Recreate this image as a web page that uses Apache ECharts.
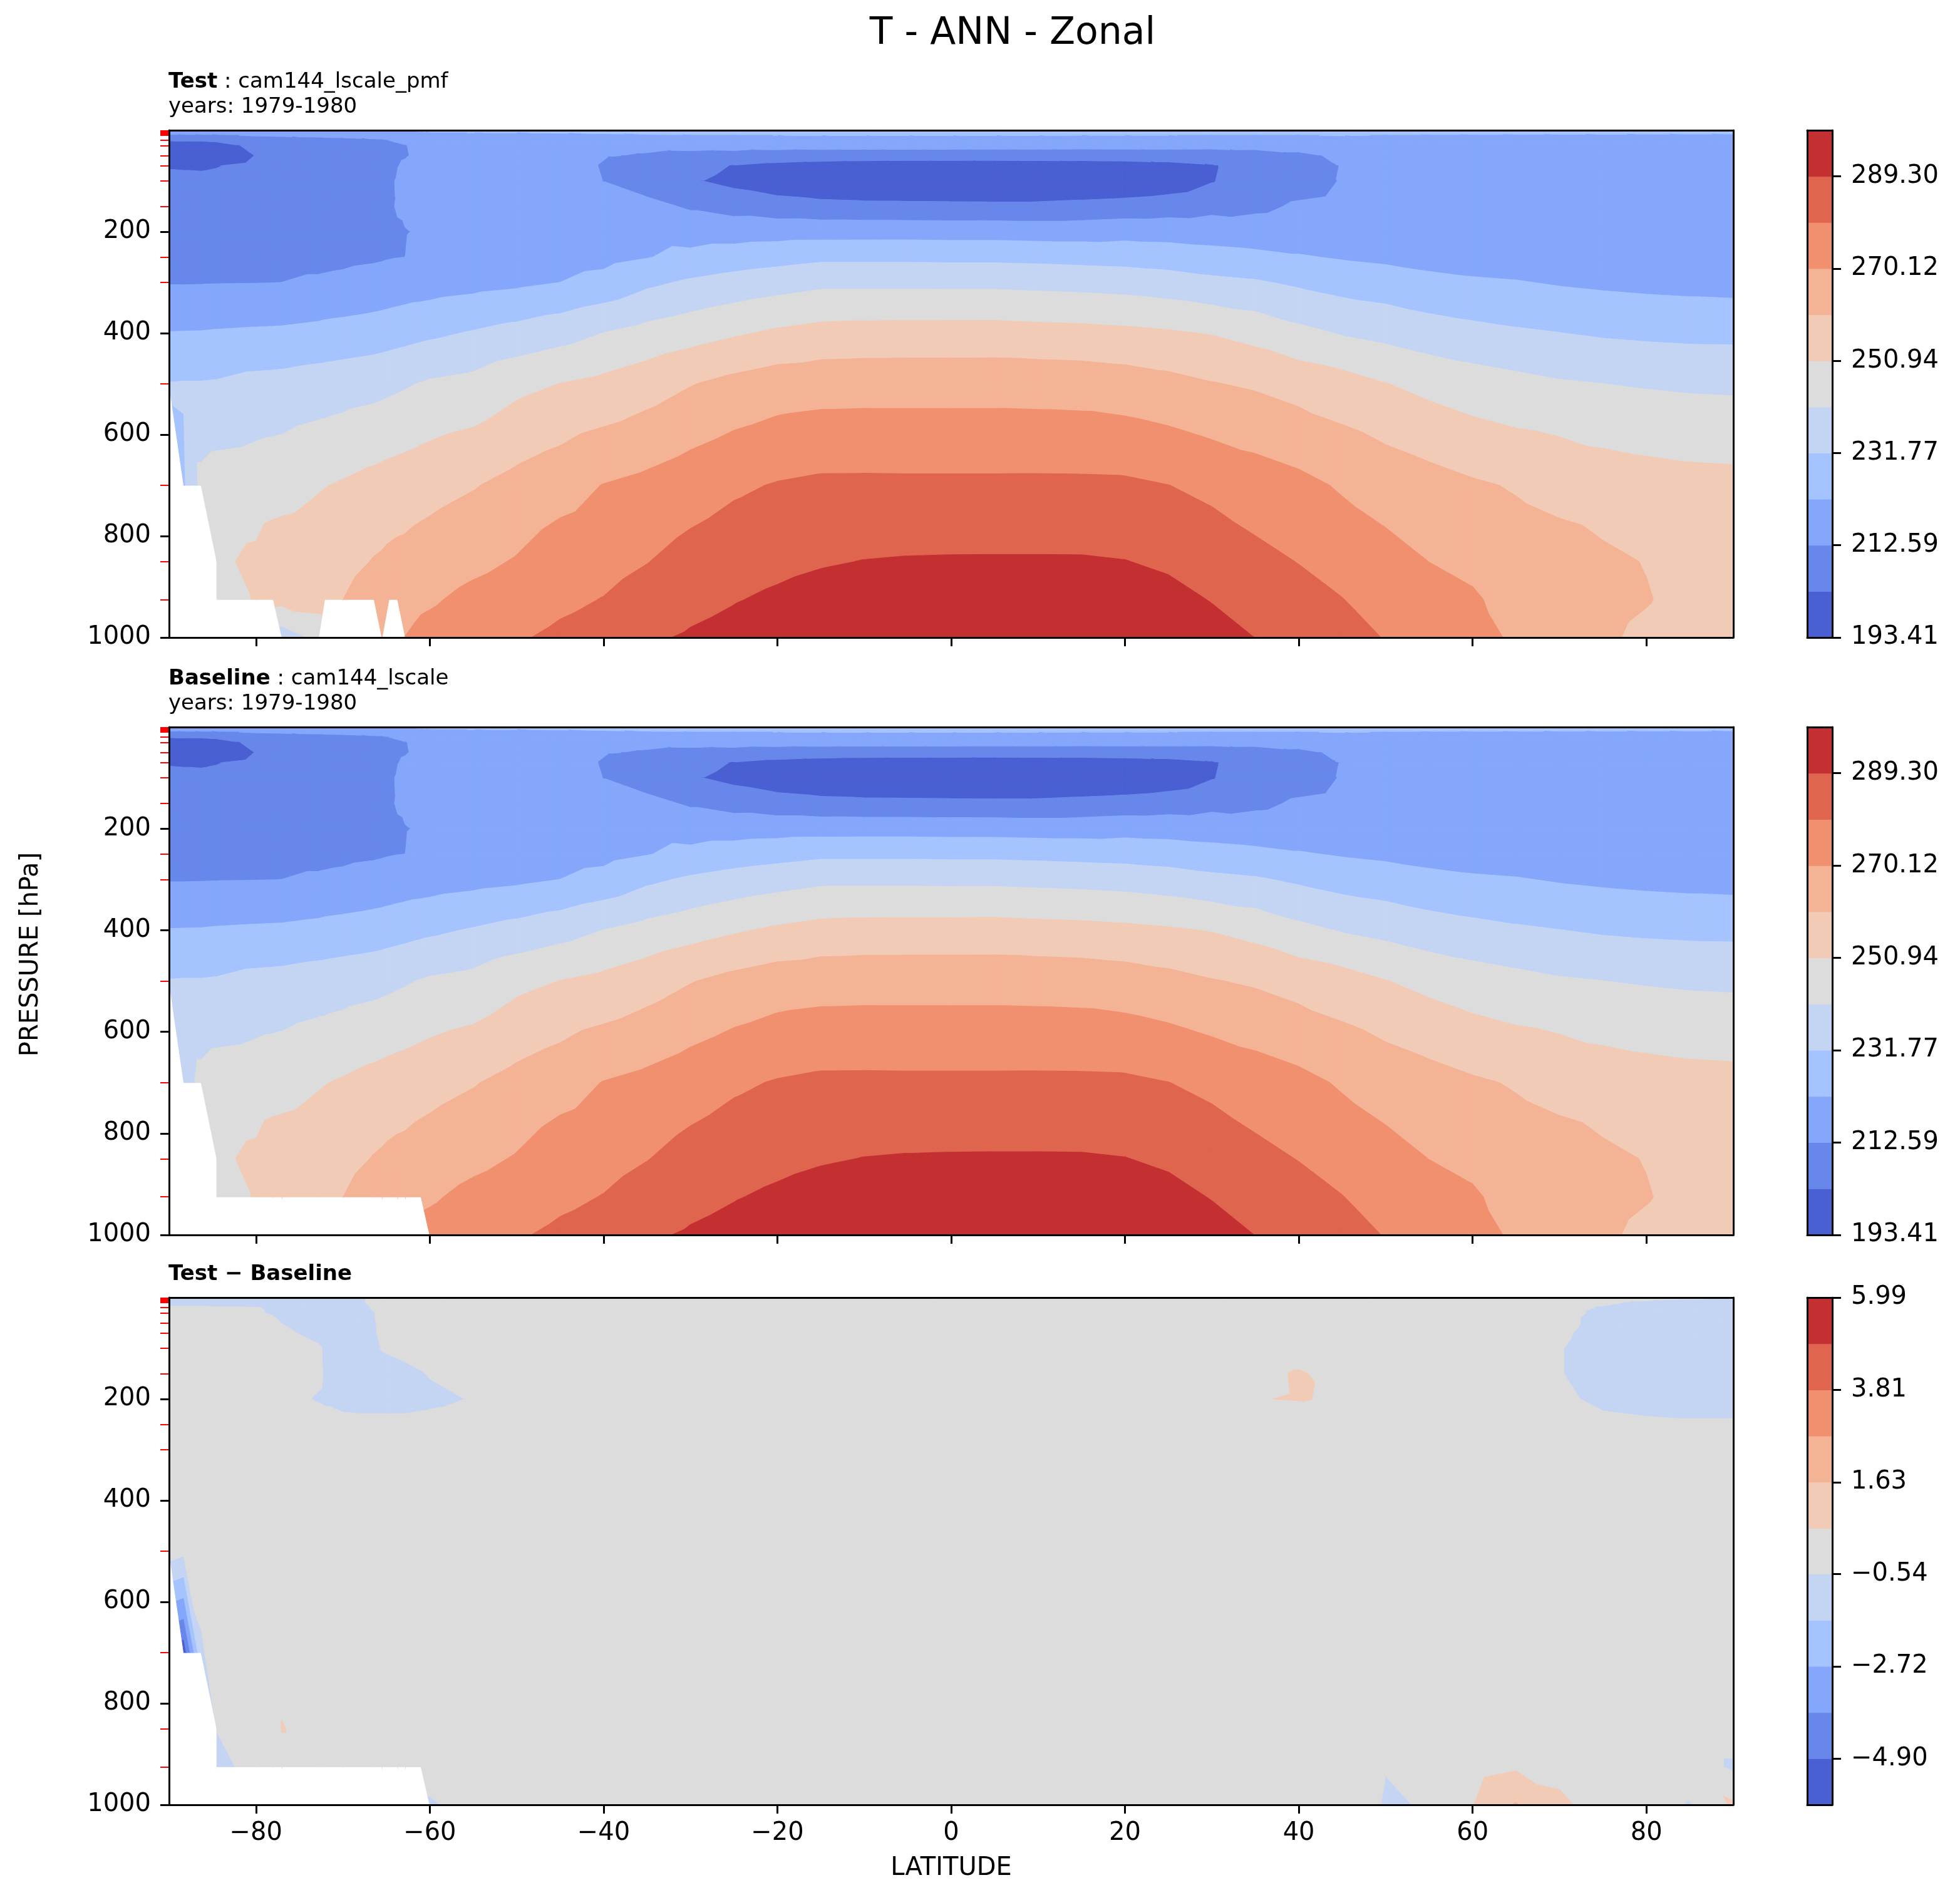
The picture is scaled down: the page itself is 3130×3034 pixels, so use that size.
<!DOCTYPE html>
<html>
<head>
<meta charset="utf-8">
<title>T - ANN - Zonal</title>
<script src="https://cdn.jsdelivr.net/npm/echarts@6.0.0/dist/echarts.min.js"></script>
<style>
html, body { margin: 0; padding: 0; background: #ffffff; }
#chart { width: 3130px; height: 3034px; }
</style>
</head>
<body>
<div id="chart"></div>
<script>
var _ = null;

// grid of the zonal mean field
var lats = [-90, -88.3, -86.3, -84.5, -80, -78, -77, -72.8, -72.1, -70,
  -66.4, -65.5, -64.7, -63.7, -62.8, -61, -60, -55, -50, -45,
  -40, -35, -30, -25, -20, -15, -10, -5, 0, 5,
  10, 15, 20, 25, 30, 35, 40, 45, 50, 55,
  60, 65, 70, 75, 80, 85, 90];
var plevs = [1, 5, 10, 20, 30, 50, 70, 100, 150, 200, 250, 300, 400, 500, 700, 850, 925, 1000];

// Test: cam144_lscale_pmf, temperature [K], one row per pressure level
var testT = [
  [218, 218, 218, 218, 219, 219, 219, 219.5, 219.5, 219.5, 220, 220, 220.5, 221, 222.5, 223.2, 224, 224.5, 224.5, 225, 226, 227, 228, 228.5, 229, 229.5, 230, 230, 230, 230, 230, 230, 230, 230, 230, 230, 230, 229, 228.5, 228, 227.5, 227, 226.5, 226, 225.5, 225, 225],
  [214.5, 214.5, 214.5, 214.5, 215.5, 216, 216, 216.5, 216.5, 216.8, 217.2, 217.3, 217.6, 218, 219, 220.5, 221.5, 222.3, 222.2, 222.7, 223.3, 224.5, 225.5, 226, 226.3, 226.5, 226.8, 226.8, 226.8, 226.8, 226.6, 226.5, 226.5, 226.5, 226.4, 226.4, 226.3, 225, 224.5, 224, 223.8, 223.6, 223.4, 223.3, 223.2, 223.1, 223],
  [211.5, 211.6, 211.7, 211.8, 213.2, 213.5, 213.6, 214, 214.2, 214.3, 215, 215.1, 215.5, 215.8, 216.5, 217.3, 218, 218.8, 219, 219.5, 220, 221, 221.7, 222, 222.2, 222.3, 222.4, 222.4, 222.4, 222.4, 222.3, 222.2, 222.2, 222.2, 222.1, 222, 221.9, 222.5, 222, 221.7, 221.5, 221.5, 221.4, 221.4, 221.3, 221.3, 221.3],
  [203.5, 203.6, 203.7, 204.3, 208, 208.5, 208.8, 210, 210.2, 210.6, 211.5, 211.7, 212.6, 213, 213.6, 214.5, 214.8, 215.8, 216.5, 217, 216.5, 216.5, 217, 217.2, 217.3, 217.5, 217.6, 217.6, 217.6, 217.6, 217.5, 217.4, 217.4, 217.4, 217.3, 217.2, 217, 218, 218, 217.8, 217.5, 217.3, 217, 217, 216.8, 216.7, 216.6],
  [199, 199.2, 199.3, 200, 205, 205.8, 206, 207, 207.2, 207.8, 208.8, 210, 211.6, 212.1, 212.5, 213.4, 213.7, 215, 216, 216.3, 214.5, 214, 214.3, 214.6, 214.8, 215, 215, 215, 215, 215, 215, 214.9, 214.9, 214.9, 214.8, 214.7, 214.5, 215.5, 216, 216, 216, 215.8, 215.6, 215.5, 215.4, 215.3, 215.2],
  [197.5, 197.7, 197.8, 198.5, 203.2, 204.5, 204.8, 205.5, 205.7, 206, 207.5, 209.5, 211, 212.2, 212.4, 213.2, 213.6, 215, 216, 216, 213, 212, 211, 210.5, 209.5, 208.8, 208.6, 208.5, 208.5, 208.4, 208.4, 208.3, 208.4, 208.5, 208.5, 209.5, 211.5, 213.5, 215, 215.2, 215.2, 215, 214.8, 214.7, 214.6, 214.5, 214.4],
  [202.7, 202.6, 202.5, 202.8, 204.6, 205, 205.2, 205.5, 205.6, 206, 207.5, 209.8, 211.3, 212.5, 213, 214, 214.4, 215.6, 216.5, 215.8, 212.1, 209, 206.5, 202.5, 200, 198.5, 197.5, 197, 197, 196.8, 197.2, 197.5, 198.2, 199.5, 202, 208.5, 210, 212.8, 214.5, 215, 215, 214.8, 214.6, 214.5, 214.4, 214.3, 214.2],
  [203.9, 203.9, 203.9, 204.1, 205.4, 205.8, 206, 206.3, 206.4, 206.8, 208.3, 210.5, 212, 212.9, 213.8, 214.6, 215, 216, 216.8, 216.2, 212.5, 208.5, 204, 200.5, 197.5, 195.5, 194.5, 194, 193.6, 193.41, 194, 194.5, 195.5, 197.5, 202.5, 208.5, 209.5, 213, 214.5, 215, 215, 214.8, 214.6, 214.5, 214.4, 214.3, 214.2],
  [206, 206, 206, 206.1, 207.3, 207.6, 207.7, 208.2, 208.3, 208.6, 209.6, 211, 212.2, 212.8, 213.6, 214.5, 215, 216, 216.8, 216.6, 214.8, 215, 211.5, 209, 207, 205.8, 205.3, 205.2, 205.1, 205, 205, 205.8, 206.6, 207.8, 209.8, 211, 213.5, 214.5, 215.2, 215.3, 215.2, 215, 214.8, 214.6, 214.5, 214.4, 214.3],
  [208, 208, 208, 208.1, 209.1, 209.3, 209.4, 210, 210.1, 210.2, 210.8, 211.3, 212, 212.3, 212.4, 213, 213.8, 215.3, 216.5, 217, 217.5, 219, 218, 218, 218.3, 218.4, 218.5, 218.5, 218.3, 218.3, 217.9, 217.9, 218.8, 218.5, 217.7, 216.3, 216.8, 217, 216.5, 215.8, 215.6, 215.5, 215.2, 215, 214.9, 214.8, 214.7],
  [210.1, 210.1, 210.1, 210.2, 210.4, 210.5, 210.6, 210.6, 210.7, 211, 211.6, 211.9, 212.2, 212.45, 212.6, 214, 214.6, 216.8, 217.5, 218.5, 219.5, 221.8, 224.5, 226.6, 228.2, 229.8, 229.8, 229.8, 229.6, 229.6, 229.2, 228.6, 228.1, 227.1, 225.7, 224.7, 222.9, 221.4, 220.3, 218.9, 218, 217.5, 216.8, 216.3, 216, 215.8, 215.6],
  [212.1, 212.1, 212.2, 212.3, 212.4, 212.5, 212.6, 213.5, 213.7, 214.2, 215.5, 215.9, 216.3, 216.8, 217.2, 217.6, 217.9, 219.2, 220.4, 222.2, 225, 229.9, 233.1, 235.5, 237.5, 239.3, 239.3, 239.3, 239.2, 239.2, 238.7, 238.2, 237.5, 236.1, 234, 232.7, 230.3, 228, 226.6, 224.7, 223.4, 222.7, 221.4, 220.5, 219.8, 219.3, 218.9],
  [222.5, 222.6, 222.7, 223, 223.5, 223.7, 223.8, 224.8, 225.2, 225.8, 226.9, 227.3, 227.7, 228.2, 228.6, 229.6, 230.1, 232.5, 235, 237.8, 241.5, 244.6, 247.2, 249.9, 252.4, 254.2, 254.7, 254.8, 254.8, 254.9, 254.3, 253.9, 253.1, 252, 250.5, 247.8, 243.8, 240.7, 238.7, 236.2, 234.5, 233, 231.9, 230.7, 230, 229.5, 229.4],
  [232.1, 232.3, 232.3, 232.6, 234.5, 234.8, 235, 236.4, 236.5, 237.2, 238.3, 238.8, 239.3, 239.9, 240.5, 241.8, 242.5, 244.2, 248.5, 251.1, 253.3, 256.4, 260.1, 263.2, 265.5, 266.3, 266.5, 266.5, 266.5, 266.5, 266.3, 266, 265, 263.3, 261, 259.4, 257, 254.8, 251.2, 248.3, 245.9, 244.1, 242.3, 241.4, 240.6, 240, 239.7],
  [_, 230.5, 244, 245.9, 246.6, 247.45, 247.8, 250.24, 250.66, 251.8, 254, 254.6, 255.1, 255.6, 256, 257, 257.5, 259.95, 263.5, 266.6, 270.4, 272.6, 275.5, 278.3, 280.3, 281.45, 281.5, 281.4, 281.4, 281.4, 281.45, 281.4, 281.2, 279.8, 277.6, 275, 272.6, 269.1, 266.75, 264.2, 261.7, 259.8, 258.8, 256.4, 255.1, 254.2, 253.85],
  [_, _, _, 249.5, 252.5, 255.3, 255.5, 256.5, 257, 257.6, 261, 261.6, 262.3, 262.9, 263.2, 264.5, 265, 267.9, 270.75, 274.85, 276.7, 279.45, 282.9, 285.3, 287, 288.5, 289.5, 289.9, 290.05, 290.1, 290.1, 290.05, 289.5, 287.9, 285.1, 282.1, 279.45, 276.2, 272.8, 270.05, 268, 265, 262.8, 262.1, 260.2, 257.5, 256.5],
  [_, _, _, 249, 251.2, 254.5, 254, 255, 255.5, 260.5, 265, 264, 265.5, 266.3, 266.5, 268.5, 269, 272.5, 274.8, 277.8, 280, 283.3, 286.6, 288.8, 290.8, 292.7, 293.8, 294.2, 294.6, 294.8, 294.5, 294.3, 293.5, 291.9, 288.9, 285.7, 282.8, 279.9, 275.9, 273.2, 271.2, 266.8, 264.6, 263, 261, 258, 257],
  [_, _, _, _, _, _, 236, 244, _, _, _, 266, _, _, 270.3, 272.5, 273.1, 276, 278.8, 281.5, 283.4, 288, 290.3, 292.3, 294.8, 296.3, 297.8, 298.3, 298.6, 298.89, 298.5, 298.2, 297.3, 295.6, 292.7, 289.2, 286.3, 283, 279.3, 276.3, 274.5, 268.2, 264.5, 261.8, 258.8, 256.5, 255.5]
];

// Baseline: cam144_lscale
var baseT = [
  [218, 218, 218, 218, 219, 219, 219, 219.5, 219.5, 219.5, 220, 220, 220.5, 221, 222.5, 223.2, 224, 224.5, 224.5, 225, 226, 227, 228, 228.5, 229, 229.5, 230, 230, 230, 230, 230, 230, 230, 230, 230, 230, 230, 229, 228.5, 228, 227.5, 227, 226.5, 226, 225.5, 225, 225],
  [214.5, 214.5, 214.5, 214.5, 215.5, 216, 216, 216.5, 216.5, 216.8, 217.2, 217.3, 217.6, 218, 219, 220.5, 221.5, 222.3, 222.2, 222.7, 223.3, 224.5, 225.5, 226, 226.3, 226.5, 226.8, 226.8, 226.8, 226.8, 226.6, 226.5, 226.5, 226.5, 226.4, 226.4, 226.3, 225, 224.5, 224, 223.8, 223.6, 223.4, 223.3, 223.2, 223.1, 223],
  [211.5, 211.6, 211.7, 211.8, 213.2, 213.5, 213.6, 214, 214.2, 214.3, 215, 215.1, 215.5, 215.8, 216.5, 217.3, 218, 218.8, 219, 219.5, 220, 221, 221.7, 222, 222.2, 222.3, 222.4, 222.4, 222.4, 222.4, 222.3, 222.2, 222.2, 222.2, 222.1, 222, 221.9, 222.5, 222, 221.7, 221.5, 221.5, 221.4, 221.4, 221.3, 221.3, 221.3],
  [203.5, 203.6, 203.7, 204.3, 208, 208.5, 208.8, 210, 210.2, 210.6, 211.5, 211.7, 212.6, 213, 213.6, 214.5, 214.8, 215.8, 216.5, 217, 216.5, 216.5, 217, 217.2, 217.3, 217.5, 217.6, 217.6, 217.6, 217.6, 217.5, 217.4, 217.4, 217.4, 217.3, 217.2, 217, 218, 218, 217.8, 217.5, 217.3, 217, 217, 216.8, 216.7, 216.6],
  [199, 199.2, 199.3, 200, 205, 205.8, 206, 207, 207.2, 207.8, 208.8, 210, 211.6, 212.1, 212.5, 213.4, 213.7, 215, 216, 216.3, 214.5, 214, 214.3, 214.6, 214.8, 215, 215, 215, 215, 215, 215, 214.9, 214.9, 214.9, 214.8, 214.7, 214.5, 215.5, 216, 216, 216, 215.8, 215.6, 215.5, 215.4, 215.3, 215.2],
  [197.5, 197.7, 197.8, 198.5, 203.2, 204.5, 204.8, 205.5, 205.7, 206, 207.5, 209.5, 211, 212.2, 212.4, 213.2, 213.6, 215, 216, 216, 213, 212, 211, 210.5, 209.5, 208.8, 208.6, 208.5, 208.5, 208.4, 208.4, 208.3, 208.4, 208.5, 208.5, 209.5, 211.5, 213.5, 215, 215.2, 215.2, 215, 214.8, 214.7, 214.6, 214.5, 214.4],
  [202.7, 202.6, 202.5, 202.8, 204.6, 205, 205.2, 205.5, 205.6, 206, 207.5, 209.8, 211.3, 212.5, 213, 214, 214.4, 215.6, 216.5, 215.8, 212.1, 209, 206.5, 202.5, 200, 198.5, 197.5, 197, 197, 196.8, 197.2, 197.5, 198.2, 199.5, 202, 208.5, 210, 212.8, 214.5, 215, 215, 214.8, 214.6, 214.5, 214.4, 214.3, 214.2],
  [203.9, 203.9, 203.9, 204.1, 205.4, 205.8, 206, 206.3, 206.4, 206.8, 208.3, 210.5, 212, 212.9, 213.8, 214.6, 215, 216, 216.8, 216.2, 212.5, 208.5, 204, 200.5, 197.5, 195.5, 194.5, 194, 193.6, 193.41, 194, 194.5, 195.5, 197.5, 202.5, 208.5, 209.5, 213, 214.5, 215, 215, 214.8, 214.6, 214.5, 214.4, 214.3, 214.2],
  [206, 206, 206, 206.1, 207.3, 207.6, 207.7, 208.2, 208.3, 208.6, 209.6, 211, 212.2, 212.8, 213.6, 214.5, 215, 216, 216.8, 216.6, 214.8, 215, 211.5, 209, 207, 205.8, 205.3, 205.2, 205.1, 205, 205, 205.8, 206.6, 207.8, 209.8, 211, 213.5, 214.5, 215.2, 215.3, 215.2, 215, 214.8, 214.6, 214.5, 214.4, 214.3],
  [208, 208, 208, 208.1, 209.1, 209.3, 209.4, 210, 210.1, 210.2, 210.8, 211.3, 212, 212.3, 212.4, 213, 213.8, 215.3, 216.5, 217, 217.5, 219, 218, 218, 218.3, 218.4, 218.5, 218.5, 218.3, 218.3, 217.9, 217.9, 218.8, 218.5, 217.7, 216.3, 216.8, 217, 216.5, 215.8, 215.6, 215.5, 215.2, 215, 214.9, 214.8, 214.7],
  [210.1, 210.1, 210.1, 210.2, 210.4, 210.5, 210.6, 210.6, 210.7, 211, 211.6, 211.9, 212.2, 212.45, 212.6, 214, 214.6, 216.8, 217.5, 218.5, 219.5, 221.8, 224.5, 226.6, 228.2, 229.8, 229.8, 229.8, 229.6, 229.6, 229.2, 228.6, 228.1, 227.1, 225.7, 224.7, 222.9, 221.4, 220.3, 218.9, 218, 217.5, 216.8, 216.3, 216, 215.8, 215.6],
  [212.1, 212.1, 212.2, 212.3, 212.4, 212.5, 212.6, 213.5, 213.7, 214.2, 215.5, 215.9, 216.3, 216.8, 217.2, 217.6, 217.9, 219.2, 220.4, 222.2, 225, 229.9, 233.1, 235.5, 237.5, 239.3, 239.3, 239.3, 239.2, 239.2, 238.7, 238.2, 237.5, 236.1, 234, 232.7, 230.3, 228, 226.6, 224.7, 223.4, 222.7, 221.4, 220.5, 219.8, 219.3, 218.9],
  [222.5, 222.6, 222.7, 223, 223.5, 223.7, 223.8, 224.8, 225.2, 225.8, 226.9, 227.3, 227.7, 228.2, 228.6, 229.6, 230.1, 232.5, 235, 237.8, 241.5, 244.6, 247.2, 249.9, 252.4, 254.2, 254.7, 254.8, 254.8, 254.9, 254.3, 253.9, 253.1, 252, 250.5, 247.8, 243.8, 240.7, 238.7, 236.2, 234.5, 233, 231.9, 230.7, 230, 229.5, 229.4],
  [232.1, 232.3, 232.3, 232.6, 234.5, 234.8, 235, 236.4, 236.5, 237.2, 238.3, 238.8, 239.3, 239.9, 240.5, 241.8, 242.5, 244.2, 248.5, 251.1, 253.3, 256.4, 260.1, 263.2, 265.5, 266.3, 266.5, 266.5, 266.5, 266.5, 266.3, 266, 265, 263.3, 261, 259.4, 257, 254.8, 251.2, 248.3, 245.9, 244.1, 242.3, 241.4, 240.6, 240, 239.7],
  [_, 237, 244, 245.9, 246.6, 247.45, 247.8, 250.24, 250.66, 251.8, 254, 254.6, 255.1, 255.6, 256, 257, 257.5, 259.95, 263.5, 266.6, 270.4, 272.6, 275.5, 278.3, 280.3, 281.45, 281.5, 281.4, 281.4, 281.4, 281.45, 281.4, 281.2, 279.8, 277.6, 275, 272.6, 269.1, 266.75, 264.2, 261.7, 259.8, 258.8, 256.4, 255.1, 254.2, 253.85],
  [_, _, _, 249.5, 252.5, 255.3, 255.5, 256.5, 257, 257.6, 261, 261.6, 262.3, 262.9, 263.2, 264.5, 265, 267.9, 270.75, 274.85, 276.7, 279.45, 282.9, 285.3, 287, 288.5, 289.5, 289.9, 290.05, 290.1, 290.1, 290.05, 289.5, 287.9, 285.1, 282.1, 279.45, 276.2, 272.8, 270.05, 268, 265, 262.8, 262.1, 260.2, 257.5, 256.5],
  [_, _, _, 249, 251.2, 254.5, 254, 255, 255.5, 260.5, 265, 264, 265.5, 266.3, 266.5, 268.5, 269, 272.5, 274.8, 277.8, 280, 283.3, 286.6, 288.8, 290.8, 292.7, 293.8, 294.2, 294.6, 294.8, 294.5, 294.3, 293.5, 291.9, 288.9, 285.7, 282.8, 279.9, 275.9, 273.2, 271.2, 266.8, 264.6, 263, 261, 258, 257],
  [_, _, _, _, _, _, _, _, _, _, _, _, _, _, _, _, 273.1, 276, 278.8, 281.5, 283.4, 288, 290.3, 292.3, 294.8, 296.3, 297.8, 298.3, 298.6, 298.89, 298.5, 298.2, 297.3, 295.6, 292.7, 289.2, 286.3, 283, 279.3, 276.3, 274.5, 268.2, 264.5, 261.8, 258.8, 256.5, 255.5]
];

// Test - Baseline [K]
var diffT = [
  [-0.9, -0.9, -0.9, -0.9, -0.9, -0.9, -0.9, -0.9, -0.9, -0.9, -0.4, -0.2, 0, 0, 0, 0, 0, 0, 0, 0, 0, 0, 0, 0, 0, 0, 0, 0, 0, 0, 0, 0, 0, 0, 0, 0, 0, 0, 0, 0, 0, 0, -0.3, -0.2, -0.3, -0.45, -0.5],
  [-0.9, -0.9, -0.9, -0.9, -0.9, -0.9, -0.9, -0.9, -0.9, -0.9, -0.4, -0.2, 0, 0, 0, 0, 0, 0, 0, 0, 0, 0, 0, 0, 0, 0, 0, 0, 0, 0, 0, 0, 0, 0, 0, 0, 0, 0, 0, 0, 0, 0, -0.3, -0.35, -0.5, -0.6, -0.7],
  [-0.9, -0.9, -0.9, -0.9, -0.9, -0.9, -0.9, -0.9, -0.9, -0.9, -0.4, -0.2, 0, 0, 0, 0, 0, 0, 0, 0, 0, 0, 0, 0, 0, 0, 0, 0, 0, 0, 0, 0, 0, 0, 0, 0, 0, 0, 0, 0, 0, 0, -0.3, -0.45, -0.65, -0.75, -0.8],
  [-0.4, -0.4, -0.4, -0.45, -0.5, -0.65, -0.7, -0.8, -0.8, -0.8, -0.5, -0.3, -0.1, 0, 0, 0, 0, 0, 0, 0, 0, 0, 0, 0, 0, 0, 0, 0, 0, 0, 0, 0, 0, 0, 0, 0, 0, 0, 0, 0, 0, 0, -0.3, -0.6, -0.8, -0.85, -0.85],
  [-0.3, -0.3, -0.3, -0.3, -0.5, -0.58, -0.62, -0.8, -0.8, -0.8, -0.55, -0.3, -0.2, -0.1, 0, 0, 0, 0, 0, 0, 0, 0, 0, 0, 0, 0, 0, 0, 0, 0, 0, 0, 0, 0, 0, 0, 0, 0, 0, 0, 0, 0, -0.3, -0.7, -0.85, -0.85, -0.85],
  [-0.2, -0.2, -0.2, -0.2, -0.3, -0.45, -0.55, -0.8, -0.8, -0.8, -0.6, -0.35, -0.25, -0.2, -0.15, -0.1, 0, 0, 0, 0, 0, 0, 0, 0, 0, 0, 0, 0, 0, 0, 0, 0, 0, 0, 0, 0, 0, 0, 0, 0, 0, 0, -0.3, -0.8, -0.85, -0.85, -0.85],
  [0, 0, 0, 0, -0.1, -0.3, -0.4, -0.75, -0.8, -0.85, -0.62, -0.4, -0.3, -0.25, -0.2, -0.15, -0.1, 0, 0, 0, 0, 0, 0, 0, 0, 0, 0, 0, 0, 0, 0, 0, 0, 0, 0, 0, 0, 0, 0, 0, 0, 0, -0.4, -0.85, -0.85, -0.85, -0.85],
  [0, 0, 0, 0, 0, -0.1, -0.2, -0.45, -0.6, -0.85, -0.7, -0.5, -0.45, -0.4, -0.35, -0.3, -0.25, -0.1, 0, 0, 0, 0, 0, 0, 0, 0, 0, 0, 0, 0, 0, 0, 0, 0, 0, 0, 0.1, 0, 0, 0, 0, 0, -0.5, -0.9, -0.85, -0.85, -0.85],
  [0, 0, 0, 0, 0, 0, -0.15, -0.4, -0.6, -0.9, -0.9, -0.85, -0.8, -0.75, -0.7, -0.58, -0.5, -0.3, 0, 0, 0, 0, 0, 0, 0, 0, 0, 0, 0, 0, 0, 0, 0, 0, 0, 0.3, 0.62, 0.25, 0, 0, 0, 0, -0.5, -0.9, -0.85, -0.85, -0.85],
  [0, 0, 0, 0, 0, -0.1, -0.3, -0.6, -0.65, -0.8, -0.8, -0.8, -0.8, -0.8, -0.8, -0.75, -0.7, -0.5, 0, 0, 0, 0, 0, 0, 0, 0, 0, 0, 0, 0, 0, 0, 0, 0, 0, 0.5, 0.6, 0.4, 0, 0, 0, 0, -0.35, -0.75, -0.85, -0.85, -0.85],
  [0, 0, 0, 0, 0, 0, -0.1, -0.2, -0.25, -0.3, -0.35, -0.35, -0.35, -0.35, -0.35, -0.3, -0.3, -0.2, 0, 0, 0, 0, 0, 0, 0, 0, 0, 0, 0, 0, 0, 0, 0, 0, 0, 0, -0.3, 0, 0, 0, 0, 0, -0.2, -0.3, -0.4, -0.45, -0.45],
  [0, 0, 0, 0, 0, 0, 0, 0, 0, 0, 0, 0, 0, 0, 0, 0, 0, 0, 0, 0, 0, 0, 0, 0, 0, 0, 0, 0, 0, 0, 0, 0, 0, 0, 0, 0, 0, 0, 0, 0, 0, 0, 0, 0, 0, 0, 0],
  [0, 0, 0, 0, 0, 0, 0, 0, 0, 0, 0, 0, 0, 0, 0, 0, 0, 0, 0, 0, 0, 0, 0, 0, 0, 0, 0, 0, 0, 0, 0, 0, 0, 0, 0, 0, 0, 0, 0, 0, 0, 0, 0, 0, 0, 0, 0],
  [0, -0.3, 0, 0, 0, 0, 0, 0, 0, 0, 0, 0, 0, 0, 0, 0, 0, 0, 0, 0, 0, 0, 0, 0, 0, 0, 0, 0, 0, 0, 0, 0, 0, 0, 0, 0, 0, 0, 0, 0, 0, 0, 0, 0, 0, 0, 0],
  [_, -5.6, -0.7, 0, 0, 0, 0, 0, 0, 0, 0, 0, 0, 0, 0, 0, 0, 0, 0, 0, 0, 0, 0, 0, 0, 0, 0, 0, 0, 0, 0, 0, 0, 0, 0, 0, 0, 0, 0, 0, 0, 0, 0, 0, 0, 0, 0],
  [_, _, _, -0.5, 0, 0, 0.6, 0, 0, 0, 0, 0, 0, 0, 0, 0, 0, 0, 0, 0, 0, 0, 0, 0, 0, 0, 0, 0, 0, 0, 0, 0, 0, 0, 0, 0, 0, 0, 0, 0, 0, 0, 0, 0, 0, 0, 0],
  [_, _, _, -1, 0, 0, 0, 0, 0, 0, 0, 0, 0, 0, 0, 0, 0, 0, 0, 0, 0, 0, 0, 0, 0, 0, 0, 0, 0, 0, 0, 0, 0, 0, 0, 0, 0, 0, -0.52, 0, 0.1, 0.4, 0.3, 0, 0, 0, -0.7],
  [_, _, _, _, _, _, _, _, _, _, _, _, _, _, _, _, -0.7, 0, 0, 0, 0, 0, 0, 0, 0, 0, 0, 0, 0, 0, 0, 0, 0, 0, 0, 0, 0, 0, -0.6, -0.5, 0.5, 1.7, 0.7, 0.2, 0, -0.6, 0.7]
];

// contour levels and colour bar ticks
var tempLevels = [193.41, 203.00, 212.59, 222.18, 231.77, 241.36, 250.94, 260.53, 270.12, 279.71, 289.30, 298.89];
var diffLevels = [-5.99, -4.90, -3.81, -2.72, -1.63, -0.54, 0.54, 1.63, 2.72, 3.81, 4.90, 5.99];
var tempTicks = [193.41, 212.59, 231.77, 250.94, 270.12, 289.30];
var diffTicks = [-4.90, -2.72, -0.54, 1.63, 3.81, 5.99];
var latTicks = [-80, -60, -40, -20, 0, 20, 40, 60, 80];
var presTicks = [200, 400, 600, 800, 1000];
var plevTicks = [1, 2, 3, 5, 7, 10, 20, 30, 50, 70, 100, 150, 200, 250, 300, 400, 500, 700, 850, 925, 1000];

var bandColors = ['#4a5fd1', '#6788ea', '#84a7fc', '#a5c3fe', '#c4d5f3', '#dddcdc',
  '#f2cbb7', '#f5b396', '#f1906f', '#e0654f', '#c43032'];

var FONT = 'DejaVu Sans';

var panels = [
  { top: 208, height: 810, field: testT, levels: tempLevels, ticks: tempTicks,
    title: '{b|Test}{n| : cam144_lscale_pmf}\n{n|years: 1979-1980}', titleTop: 111 },
  { top: 1161, height: 811, field: baseT, levels: tempLevels, ticks: tempTicks,
    title: '{b|Baseline}{n| : cam144_lscale}\n{n|years: 1979-1980}', titleTop: 1064 },
  { top: 2072, height: 810, field: diffT, levels: diffLevels, ticks: diffTicks,
    title: '{b|Test \u2212 Baseline}', titleTop: 2015 }
];

function minus(v) {
  return v < 0 ? '\u2212' + Math.abs(v) : String(v);
}

// keep the part of a polygon (points carry a value) above or below a level
function clipPoly(pts, level, keepAbove) {
  var out = [];
  for (var n = 0; n < pts.length; n++) {
    var a = pts[n], b = pts[(n + 1) % pts.length];
    var ina = keepAbove ? a[2] >= level : a[2] <= level;
    var inb = keepAbove ? b[2] >= level : b[2] <= level;
    if (ina) out.push(a);
    if (ina !== inb) {
      var t = (level - a[2]) / (b[2] - a[2]);
      out.push([a[0] + t * (b[0] - a[0]), a[1] + t * (b[1] - a[1]), level]);
    }
  }
  return out;
}

// filled contours of one grid cell, split in triangles (masked corners drop the cell part)
function contourItem(field, levels) {
  return function (params, api) {
    var i = api.value(2), j = api.value(3);
    function corner(ii, jj) {
      var v = field[jj][ii];
      return v === null ? null : [lats[ii], plevs[jj], v];
    }
    var quad = [corner(i, j), corner(i + 1, j), corner(i + 1, j + 1), corner(i, j + 1)];
    var valid = quad.filter(function (q) { return q !== null; });
    var tris = [];
    if (valid.length === 4) tris = [[quad[0], quad[1], quad[2]], [quad[0], quad[2], quad[3]]];
    else if (valid.length === 3) tris = [valid];
    var children = [];
    tris.forEach(function (tri) {
      var vs = tri.map(function (t) { return t[2]; });
      var vmin = Math.min.apply(null, vs), vmax = Math.max.apply(null, vs);
      for (var k = 0; k < levels.length - 1; k++) {
        if (vmax < levels[k] || vmin > levels[k + 1]) continue;
        var poly = clipPoly(tri, levels[k], true);
        if (poly.length < 3) continue;
        poly = clipPoly(poly, levels[k + 1], false);
        if (poly.length < 3) continue;
        children.push({
          type: 'polygon',
          shape: { points: poly.map(function (p) { return api.coord([p[0], p[1]]); }) },
          style: { fill: bandColors[k], stroke: bandColors[k], lineWidth: 1.2 }
        });
      }
    });
    return { type: 'group', children: children };
  };
}

function bandItem(levels) {
  return function (params, api) {
    var k = api.value(2);
    var a = api.coord([0, levels[k]]), b = api.coord([1, levels[k + 1]]);
    return {
      type: 'rect',
      shape: { x: a[0], y: b[1], width: b[0] - a[0], height: a[1] - b[1] },
      style: { fill: bandColors[k], stroke: bandColors[k], lineWidth: 1 }
    };
  };
}

var cells = [];
for (var j = 0; j < plevs.length - 1; j++) {
  for (var i = 0; i < lats.length - 1; i++) {
    cells.push([(lats[i] + lats[i + 1]) / 2, (plevs[j] + plevs[j + 1]) / 2, i, j]);
  }
}

var frame = { show: true, onZero: false, lineStyle: { color: '#000', width: 3 } };
var grids = [], xAxes = [], yAxes = [], series = [], titles = [];

panels.forEach(function (pn, k) {
  grids.push({ left: 270, top: pn.top, width: 2498, height: pn.height });
  grids.push({ left: 2886, top: pn.top, width: 40, height: pn.height });

  xAxes.push({
    gridIndex: 2 * k, type: 'value', min: -90, max: 90, position: 'bottom', z: 10,
    axisLine: frame,
    axisTick: { show: true, customValues: latTicks, length: 14, lineStyle: { color: '#000', width: 3 } },
    axisLabel: { show: k === 2, customValues: latTicks, formatter: minus, fontSize: 40, fontFamily: FONT, color: '#000', margin: 26 },
    splitLine: { show: false },
    name: k === 2 ? 'LATITUDE' : '', nameLocation: 'middle', nameGap: 82,
    nameTextStyle: { fontSize: 40, fontFamily: FONT, color: '#000' }
  });
  xAxes.push({ gridIndex: 2 * k, type: 'value', min: -90, max: 90, position: 'top', z: 10,
    axisLine: frame, axisTick: { show: false }, axisLabel: { show: false }, splitLine: { show: false } });
  xAxes.push({ gridIndex: 2 * k + 1, type: 'value', min: 0, max: 1, position: 'bottom', z: 10,
    axisLine: frame, axisTick: { show: false }, axisLabel: { show: false }, splitLine: { show: false } });
  xAxes.push({ gridIndex: 2 * k + 1, type: 'value', min: 0, max: 1, position: 'top', z: 10,
    axisLine: frame, axisTick: { show: false }, axisLabel: { show: false }, splitLine: { show: false } });

  yAxes.push({
    gridIndex: 2 * k, type: 'value', inverse: true, min: 0, max: 1000, position: 'left', z: 10,
    axisLine: frame,
    axisTick: { show: true, customValues: presTicks, length: 14, lineStyle: { color: '#000', width: 3 } },
    axisLabel: { customValues: presTicks, formatter: function (v) { return String(v); },
      fontSize: 40, fontFamily: FONT, color: '#000', margin: 29 },
    splitLine: { show: false }
  });
  yAxes.push({
    gridIndex: 2 * k, type: 'value', inverse: true, min: 0, max: 1000, position: 'left', z: 9,
    axisLine: { show: false, onZero: false },
    axisTick: { show: true, customValues: plevTicks, length: 14, lineStyle: { color: '#ff0000', width: 2 } },
    axisLabel: { show: false }, splitLine: { show: false }
  });
  yAxes.push({ gridIndex: 2 * k, type: 'value', inverse: true, min: 0, max: 1000, position: 'right', z: 10,
    axisLine: frame, axisTick: { show: false }, axisLabel: { show: false }, splitLine: { show: false } });
  yAxes.push({
    gridIndex: 2 * k + 1, type: 'value', min: pn.levels[0], max: pn.levels[pn.levels.length - 1], position: 'right', z: 10,
    axisLine: frame,
    axisTick: { show: true, customValues: pn.ticks, length: 14, lineStyle: { color: '#000', width: 3 } },
    axisLabel: { customValues: pn.ticks, fontSize: 40, fontFamily: FONT, color: '#000', margin: 30,
      formatter: function (v) { return (v < 0 ? '\u2212' : '') + Math.abs(v).toFixed(2); } },
    splitLine: { show: false }
  });
  yAxes.push({ gridIndex: 2 * k + 1, type: 'value', min: pn.levels[0], max: pn.levels[pn.levels.length - 1], position: 'left', z: 10,
    axisLine: frame, axisTick: { show: false }, axisLabel: { show: false }, splitLine: { show: false } });

  series.push({
    type: 'custom', coordinateSystem: 'cartesian2d', xAxisIndex: 4 * k, yAxisIndex: 5 * k,
    data: cells, encode: { x: 0, y: 1 }, clip: true, silent: true,
    renderItem: contourItem(pn.field, pn.levels)
  });
  series.push({
    type: 'custom', coordinateSystem: 'cartesian2d', xAxisIndex: 4 * k + 2, yAxisIndex: 5 * k + 3,
    data: pn.levels.slice(0, -1).map(function (lv, b) { return [0.5, (lv + pn.levels[b + 1]) / 2, b]; }),
    encode: { x: 0, y: 1 }, silent: true,
    renderItem: bandItem(pn.levels)
  });

  titles.push({
    text: pn.title, left: 269, top: pn.titleTop, padding: 0,
    textStyle: {
      fontSize: 34, fontFamily: FONT, color: '#000', lineHeight: 40,
      rich: {
        b: { fontSize: 34, fontFamily: FONT, fontWeight: 'bold', color: '#000', lineHeight: 40 },
        n: { fontSize: 34, fontFamily: FONT, fontWeight: 'normal', color: '#000', lineHeight: 40 }
      }
    }
  });
});

var chart = echarts.init(document.getElementById('chart'), null, { renderer: 'canvas', width: 3130, height: 3034 });
chart.setOption({
  backgroundColor: '#ffffff',
  animation: false,
  title: titles,
  grid: grids,
  xAxis: xAxes,
  yAxis: yAxes,
  series: series,
  graphic: [
    { type: 'text', x: 1617, y: 54, z: 20,
      style: { text: 'T - ANN - Zonal', font: '60px "DejaVu Sans"', fill: '#000', textAlign: 'center', textVerticalAlign: 'middle', align: 'center', verticalAlign: 'middle' } },
    { type: 'text', x: 50, y: 1524, rotation: Math.PI / 2, z: 20,
      style: { text: 'PRESSURE [hPa]', font: '40px "DejaVu Sans"', fill: '#000', textAlign: 'center', textVerticalAlign: 'middle', align: 'center', verticalAlign: 'middle' } }
  ]
});
</script>
</body>
</html>
